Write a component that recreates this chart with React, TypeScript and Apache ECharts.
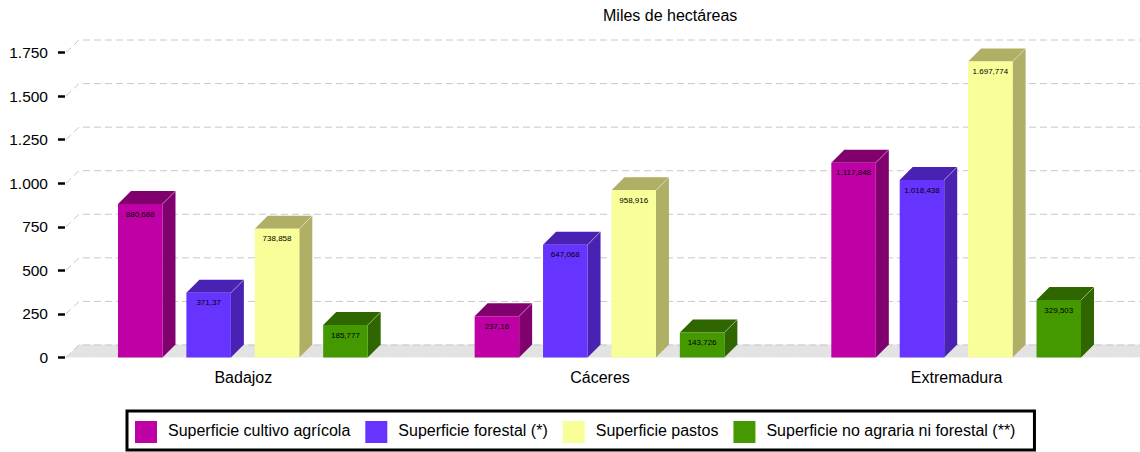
import React, { useEffect, useRef } from "react";
import * as echarts from "echarts";

const FONT = "'Liberation Sans', Arial, sans-serif";

const categories = ["Badajoz", "Cáceres", "Extremadura"];
const cultivo = [880.688, 237.16, 1117.848];
const forestal = [371.37, 647.068, 1018.438];
const pastos = [738.858, 958.916, 1697.774];
const noAgraria = [185.777, 143.726, 329.503];
const yTicks = [0, 250, 500, 750, 1000, 1250, 1500, 1750];

const names = [
  "Superficie cultivo agrícola",
  "Superficie forestal (*)",
  "Superficie pastos",
  "Superficie no agraria ni forestal (**)",
];
const frontColors = ["#BF00A5", "#6633FF", "#F8FF99", "#449900"];
const sideColors = ["#80006E", "#4A22B3", "#AFB066", "#2F6600"];
const seriesValues = [cultivo, forestal, pastos, noAgraria];

const DEPTH = 13;
const STEP_RATIO = 68.4 / 356.67;
const WIDTH_RATIO = 44.5 / 356.67;
const fmt = (v: number) => v.toLocaleString("de-DE", { maximumFractionDigits: 3 });

const backdrop = (params: any, api: any) => {
  const cs = params.coordSys;
  const y = api.coord([0, api.value(0)])[1];
  const left = cs.x + 1;
  const right = cs.x + cs.width + DEPTH;
  const dash = { stroke: "#C8C8C8", lineWidth: 1, lineDash: [7, 4], fill: "none" };
  const children: any[] = [];
  if (api.value(0) === 0) {
    children.push({
      type: "polygon",
      shape: {
        points: [
          [left, y],
          [left + DEPTH, y - DEPTH],
          [right, y - DEPTH],
          [right, y],
        ],
      },
      style: { fill: "#E3E3E4" },
    });
    children.push({
      type: "line",
      shape: { x1: left, y1: y, x2: right, y2: y },
      style: { stroke: "#F4F4F4", lineWidth: 1, lineDash: [7, 4] },
    });
  }
  children.push({
    type: "polyline",
    shape: {
      points: [
        [left, y],
        [left + DEPTH, y - DEPTH + 0.5],
        [right, y - DEPTH + 0.5],
      ],
    },
    style: dash,
  });
  return { type: "group", children };
};

const bar3d = (params: any, api: any) => {
  const band = api.size([1, 0])[0];
  const idx = params.seriesIndex - 1;
  const w = band * WIDTH_RATIO;
  const cx = api.coord([api.value(0), 0])[0] + (idx - 1.5) * band * STEP_RATIO - 0.5;
  const y0 = api.coord([0, 0])[1];
  const y1 = api.coord([0, api.value(1)])[1];
  const x0 = cx - w / 2;
  const x1 = cx + w / 2;
  return {
    type: "group",
    children: [
      {
        type: "polygon",
        shape: {
          points: [
            [x1, y1],
            [x1 + DEPTH, y1 - DEPTH],
            [x1 + DEPTH, y0 - DEPTH],
            [x1, y0],
          ],
        },
        style: { fill: sideColors[idx] },
      },
      {
        type: "polygon",
        shape: {
          points: [
            [x0, y1],
            [x0 + DEPTH, y1 - DEPTH],
            [x1 + DEPTH, y1 - DEPTH],
            [x1, y1],
          ],
        },
        style: { fill: sideColors[idx] },
      },
      {
        type: "line",
        shape: { x1, y1, x2: x1 + DEPTH, y2: y1 - DEPTH },
        style: { stroke: "rgba(255,255,255,0.35)", lineWidth: 1 },
      },
      {
        type: "rect",
        shape: { x: x0, y: y1, width: w, height: y0 - y1 },
        style: { fill: frontColors[idx] },
      },
      {
        type: "text",
        x: cx,
        y: y1 + 10,
        style: {
          text: fmt(api.value(1)),
          fill: "#000",
          font: `8px ${FONT}`,
          align: "center",
          verticalAlign: "middle",
        },
      },
    ],
  };
};

export default function App() {
  const ref = useRef<HTMLDivElement>(null);
  useEffect(() => {
    const chart = echarts.init(ref.current!, undefined, { renderer: "svg" });
    chart.setOption({
      animation: false,
      backgroundColor: "#fff",
      title: {
        text: "Miles de hectáreas",
        left: 603,
        top: 7,
        padding: 0,
        textStyle: { fontFamily: FONT, fontSize: 16, fontWeight: "normal", color: "#000" },
      },
      legend: {
        data: names,
        left: 127,
        top: 411,
        padding: [10, 19, 7, 8],
        itemGap: 15,
        itemWidth: 22,
        itemHeight: 22,
        icon: "rect",
        selectedMode: false,
        backgroundColor: "#fff",
        borderColor: "#000",
        borderWidth: 3,
        formatter: (n: string) => `{t|${n}}`,
        textStyle: {
          fontFamily: FONT,
          fontSize: 16,
          color: "#000",
          rich: {
            t: { fontFamily: FONT, fontSize: 16, color: "#000", padding: [0, 0, 4, 6] },
          },
        },
      },
      grid: { left: 65, right: 5, top: 52.5, bottom: 94.5, containLabel: false },
      xAxis: {
        type: "category",
        data: categories,
        axisLine: { show: false },
        axisTick: { show: false },
        axisLabel: { fontFamily: FONT, fontSize: 16, color: "#000", margin: 12 },
      },
      yAxis: {
        type: "value",
        min: 0,
        max: 1750,
        interval: 250,
        splitLine: { show: false },
        axisLine: { show: false },
        axisTick: { show: true, length: 7, lineStyle: { color: "#000", width: 2.5 } },
        axisLabel: { fontFamily: FONT, fontSize: 15.5, color: "#000", margin: 17, formatter: (v: number) => fmt(v) },
      },
      series: [
        {
          type: "custom",
          name: "fondo",
          silent: true,
          renderItem: backdrop,
          data: yTicks.map((v) => [v]),
          encode: { y: 0 },
          z: 1,
        },
        ...names.map((name, i) => ({
          type: "custom",
          name,
          renderItem: bar3d,
          itemStyle: { color: frontColors[i] },
          data: seriesValues[i].map((v, c) => [c, v]),
          encode: { x: 0, y: 1 },
          z: 2,
        })),
      ],
    });
    return () => chart.dispose();
  }, []);
  return <div ref={ref} style={{ position: "absolute", left: 0, top: 0, width: 1140, height: 452 }} />;
}
